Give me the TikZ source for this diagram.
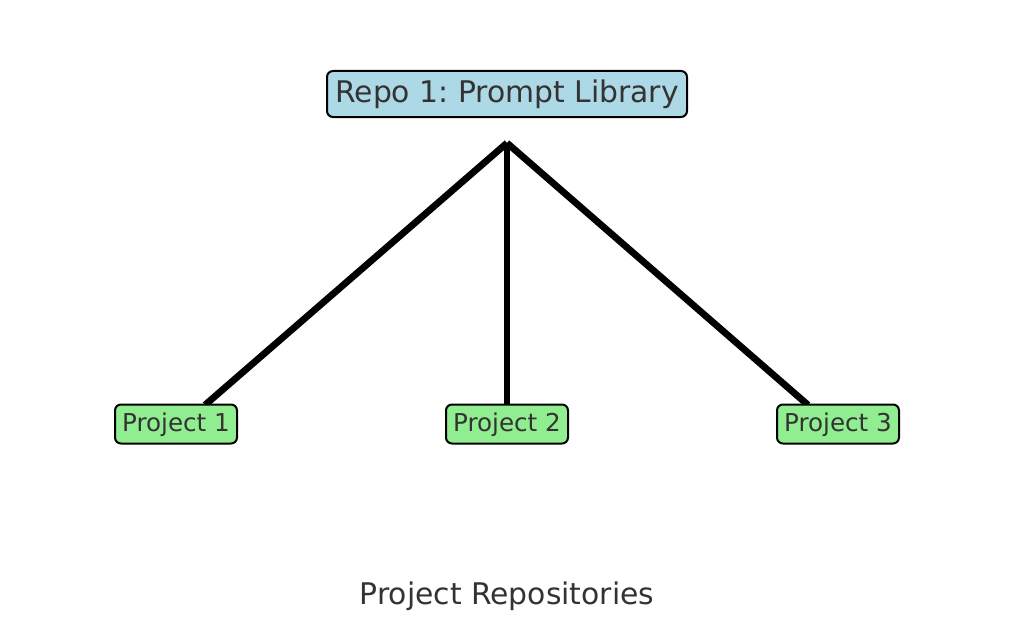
\documentclass[tikz,border=0pt]{standalone}
\usepackage{fontspec}
\setmainfont{DejaVu Sans}
\frenchspacing
\definecolor{txt}{HTML}{333333}
\definecolor{repofill}{HTML}{ADD8E6}
\definecolor{projfill}{HTML}{90EE90}
\tikzset{
  box/.style={draw=black, line width=2pt, rounded corners=6pt, inner sep=0pt, text=txt, align=center},
  repobox/.style={box, fill=repofill, minimum width=360pt, minimum height=46pt, font=\fontsize{29.8}{34}\selectfont},
  projbox/.style={box, fill=projfill, minimum width=122pt, minimum height=39pt, text depth=4pt, text height=19pt, font=\fontsize{24.6}{28}\selectfont},
  link/.style={line width=6.8pt, black},
  titletext/.style={text=txt, inner sep=0pt, font=\fontsize{29.8}{34}\selectfont}
}
\begin{document}
\begin{tikzpicture}[x=1pt, y=-1pt]
\useasboundingbox (0,0) rectangle (1015,634);
\coordinate (hub) at (507,143);
\coordinate (e1) at (205,405);
\coordinate (e2) at (507,405);
\coordinate (e3) at (808,405);
\draw[link] (hub) -- (e1);
\draw[link] (hub) -- (e2);
\draw[link] (hub) -- (e3);
\node[repobox] (repo) at (507,94) {Repo 1: Prompt Library};
\node[projbox] (p1) at (176,424) {Project 1};
\node[projbox] (p2) at (507,424) {Project 2};
\node[projbox] (p3) at (838,424) {Project 3};
\node[titletext] (title) at (507,596) {Project Repositories};
\end{tikzpicture}
\end{document}
